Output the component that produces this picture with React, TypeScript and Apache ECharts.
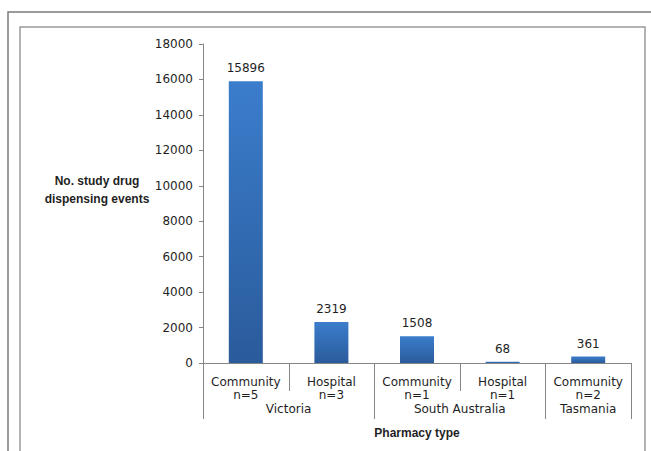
import React, { useEffect, useRef } from "react";
import * as echarts from "echarts";

const categories = ["Community\nn=5", "Hospital\nn=3", "Community\nn=1", "Hospital\nn=1", "Community\nn=2"];
const values = [15896, 2319, 1508, 68, 361];
const groups = ["Victoria", "South Australia", "Tasmania"];
const groupSpans = [2, 2, 1];
const yTicks = { min: 0, max: 18000, interval: 2000 };

const TEXT = "#1f1f1f";
const AXIS = "#868686";

export default function App() {
  const ref = useRef<HTMLDivElement>(null);
  useEffect(() => {
    const el = ref.current!;
    const chart = echarts.init(el, null, { renderer: "svg" });
    const option: any = {
      animation: false,
      backgroundColor: "#ffffff",
      textStyle: { fontFamily: "DejaVu Sans" },
      grid: { left: 203, right: 20, top: 44, bottom: 88, containLabel: false },
      xAxis: {
        type: "category",
        data: categories,
        axisLine: { lineStyle: { color: AXIS, width: 1 } },
        axisTick: { show: false },
        axisLabel: {
          interval: 0,
          margin: 12,
          color: TEXT,
          fontSize: 12,
          lineHeight: 13,
          fontFamily: "DejaVu Sans",
        },
        name: "Pharmacy type",
        nameLocation: "middle",
        nameGap: 64,
        nameTextStyle: { color: TEXT, fontSize: 12, fontWeight: "bold", fontFamily: "Liberation Sans" },
      },
      yAxis: {
        type: "value",
        min: yTicks.min,
        max: yTicks.max,
        interval: yTicks.interval,
        axisLine: { show: true, lineStyle: { color: AXIS, width: 1 } },
        axisTick: { show: true, length: 4, lineStyle: { color: AXIS } },
        splitLine: { show: false },
        axisLabel: {
          color: TEXT,
          fontSize: 12,
          margin: 10,
          fontFamily: "DejaVu Sans",
          formatter: (v: number) => String(v),
        },
      },
      series: [
        {
          type: "bar",
          data: values,
          barWidth: 34,
          itemStyle: {
            color: new echarts.graphic.LinearGradient(0, 0, 0, 1, [
              { offset: 0, color: "#3b7dcc" },
              { offset: 1, color: "#2a5b9b" },
            ]),
          },
          label: {
            show: true,
            position: "top",
            distance: 7,
            color: TEXT,
            fontSize: 12,
            fontFamily: "DejaVu Sans",
          },
        },
      ],
    };
    chart.setOption(option);

    const c0 = chart.convertToPixel({ xAxisIndex: 0 }, 0) as number;
    const c1 = chart.convertToPixel({ xAxisIndex: 0 }, 1) as number;
    const band = c1 - c0;
    const y0 = chart.convertToPixel({ yAxisIndex: 0 }, 0) as number;
    const bound = (i: number) => c0 - band / 2 + i * band;

    const graphics: any[] = [
      { type: "rect", shape: { x: 8, y: 12, width: 700, height: 500 }, style: { fill: "none", stroke: "#7a7a7a", lineWidth: 1.5 }, silent: true, z: 100 },
      { type: "rect", shape: { x: 20, y: 27, width: 625, height: 500 }, style: { fill: "none", stroke: "#9a9a9a", lineWidth: 1.5 }, silent: true, z: 100 },
      {
        type: "text",
        style: {
          text: "No. study drug\ndispensing events",
          x: 97,
          y: 190,
          align: "center",
          verticalAlign: "middle",
          fill: TEXT,
          font: "bold 12px 'Liberation Sans'",
          lineHeight: 18,
        },
        silent: true,
      },
    ];
    let start = 0;
    const groupBounds = new Set<number>([0]);
    groupSpans.forEach((s) => {
      start += s;
      groupBounds.add(start);
    });
    for (let i = 0; i <= categories.length; i++) {
      const x = Math.round(bound(i)) + 0.5;
      const isGroup = groupBounds.has(i);
      graphics.push({
        type: "line",
        shape: { x1: x, y1: y0, x2: x, y2: y0 + (isGroup ? 56 : 28) },
        style: { stroke: AXIS, lineWidth: 1 },
        silent: true,
      });
    }
    start = 0;
    groups.forEach((g, gi) => {
      const s = groupSpans[gi];
      const cx = (bound(start) + bound(start + s)) / 2;
      start += s;
      graphics.push({
        type: "text",
        style: {
          text: g,
          x: cx,
          y: y0 + 46,
          align: "center",
          verticalAlign: "middle",
          fill: TEXT,
          font: "12px 'DejaVu Sans'",
        },
        silent: true,
      });
    });
    chart.setOption({ graphic: graphics });
    return () => chart.dispose();
  }, []);
  return <div ref={ref} style={{ position: "fixed", left: 0, top: 0, width: 651, height: 451 }} />;
}
